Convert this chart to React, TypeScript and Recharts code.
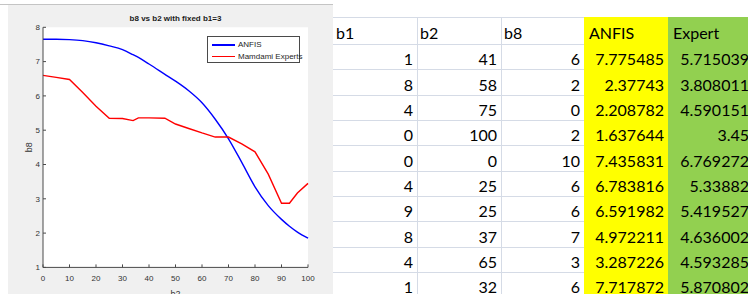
import { LineChart, Line, XAxis, YAxis, CartesianGrid, Legend } from 'recharts';

// b2 sample points along the x axis
const b2Values = [0, 5, 10, 15, 20, 25, 30, 34, 36, 40, 46, 50, 55, 60, 65, 70, 75, 80, 85, 90, 93, 96, 100];
const anfisB8 = [7.65, 7.65, 7.64, 7.61, 7.55, 7.46, 7.35, 7.2, 7.12, 6.93, 6.63, 6.43, 6.15, 5.8, 5.32, 4.75, 4.06, 3.35, 2.8, 2.4, 2.2, 2.03, 1.85];
const expertB8 = [6.6, 6.54, 6.48, 6.1, 5.7, 5.35, 5.34, 5.28, 5.36, 5.36, 5.35, 5.18, 5.05, 4.92, 4.8, 4.8, 4.6, 4.37, 3.72, 2.87, 2.87, 3.17, 3.45];
const xTicks = [0, 10, 20, 30, 40, 50, 60, 70, 80, 90, 100];
const yTicks = [1, 2, 3, 4, 5, 6, 7, 8];

// spreadsheet columns
const tableHeaders = ['b1', 'b2', 'b8', 'ANFIS', 'Expert'];
const b1Col = [1, 8, 4, 0, 0, 4, 9, 8, 4, 1];
const b2Col = [41, 58, 75, 100, 0, 25, 25, 37, 65, 32];
const b8Col = [6, 2, 0, 2, 10, 6, 6, 7, 3, 6];
const anfisCol = [7.775485, 2.37743, 2.208782, 1.637644, 7.435831, 6.783816, 6.591982, 4.972211, 3.287226, 7.717872];
const expertCol = [5.715039, 3.808011, 4.590151, 3.45, 6.769272, 5.33882, 5.419527, 4.636002, 4.593285, 5.870802];

const chartData = b2Values.map((b2, i) => ({ b2, anfis: anfisB8[i], expert: expertB8[i] }));

const axisColor = '#4a4a4a';
const tickFont = { fill: '#333', fontSize: 8, fontFamily: 'Liberation Sans, Arial, sans-serif' };

function MatlabLegend({ payload }: any) {
  return (
    <div
      style={{
        background: '#fff',
        border: `1px solid ${axisColor}`,
        width: 93,
        height: 27,
        boxSizing: 'border-box',
        fontFamily: 'Liberation Sans, Arial, sans-serif',
        fontSize: 8,
        color: '#262626',
        paddingTop: 2,
        whiteSpace: 'nowrap',
      }}
    >
      {(payload || []).map((p: any) => (
        <div key={p.value} style={{ display: 'flex', alignItems: 'center', height: 11.5 }}>
          <div style={{ flexShrink: 0, width: 23, height: 1.5, background: p.color, marginLeft: 4, marginRight: 3 }} />
          <span>{p.value}</span>
        </div>
      ))}
    </div>
  );
}

const colLeft = [333, 417, 501, 584, 668];
const colWidth = [84, 84, 83, 84, 84];
const colBg = ['transparent', 'transparent', 'transparent', '#ffff00', '#92d050'];
const rowTop = (i: number) => 44 + 25.33 * i;
const gridColor = '#d5dbe6';
const cellFont = 'Lato, "Open Sans", sans-serif';

function Sheet() {
  const cols = [b1Col, b2Col, b8Col, anfisCol, expertCol];
  const lines: any[] = [];
  lines.push(<div key="top" style={{ position: 'absolute', left: 333, top: 17, width: 251, height: 1, background: gridColor }} />);
  for (let i = 0; i <= 10; i++) {
    lines.push(
      <div key={'h' + i} style={{ position: 'absolute', left: 333, top: rowTop(i), width: 251, height: 1, background: gridColor }} />
    );
  }
  [417, 501].forEach((x) =>
    lines.push(<div key={'v' + x} style={{ position: 'absolute', left: x, top: 17, width: 1, height: 277, background: gridColor }} />)
  );
  return (
    <>
      {colBg.map((bg, c) =>
        bg === 'transparent' ? null : (
          <div key={'bg' + c} style={{ position: 'absolute', left: colLeft[c], top: 17, width: colWidth[c], height: 277, background: bg }} />
        )
      )}
      {lines}
      {tableHeaders.map((h, c) => (
        <div
          key={'th' + c}
          style={{
            position: 'absolute',
            left: colLeft[c] + (c >= 3 ? 5 : 3),
            top: 22.6,
            lineHeight: '19px',
            fontFamily: cellFont,
            fontSize: 16,
            color: '#000',
          }}
        >
          {h}
        </div>
      ))}
      {cols.map((col, c) =>
        col.map((v, r) => (
          <div
            key={c + '-' + r}
            style={{
              position: 'absolute',
              left: colLeft[c],
              width: colWidth[c] - (c === 4 ? 3 : 4),
              top: rowTop(r) + 5.3,
              lineHeight: '19px',
              textAlign: 'right',
              fontFamily: cellFont,
              fontSize: 16,
              color: '#000',
            }}
          >
            {String(v)}
          </div>
        ))
      )}
    </>
  );
}

export default function App() {
  return (
    <div style={{ position: 'absolute', left: 0, top: 0, width: 748, height: 294, overflow: 'hidden', background: '#fff' }}>
      <div style={{ position: 'absolute', left: 0, top: 4, width: 333, height: 1, background: '#c4c4c4' }} />
      <div style={{ position: 'absolute', left: 8, top: 5, width: 325, height: 289, background: '#f0f0f0' }}>
        <div
          style={{
            position: 'absolute',
            left: 0,
            width: 335,
            top: 9,
            textAlign: 'center',
            fontFamily: 'Liberation Sans, Arial, sans-serif',
            fontWeight: 'bold',
            fontSize: 8,
            color: '#1a1a1a',
          }}
        >
          b8 vs b2 with fixed b1=3
        </div>
        <LineChart width={325} height={289} data={chartData} margin={{ top: 22.3, right: 25, bottom: 0, left: 0 }}>
          <CartesianGrid horizontal={false} vertical={false} fill="#ffffff" />
          <XAxis
            dataKey="b2"
            type="number"
            domain={[0, 100]}
            ticks={xTicks}
            height={26.6}
            tickSize={-3}
            tickMargin={11}
            tick={tickFont}
            stroke={axisColor}
            label={{ value: 'b2', position: 'center', dy: 13, style: { ...tickFont, fontSize: 9 } }}
          />
          <XAxis xAxisId="top" orientation="top" type="number" domain={[0, 100]} ticks={xTicks} height={0} tickSize={-3} tick={false} stroke={axisColor} />
          <YAxis
            type="number"
            domain={[1, 8]}
            ticks={yTicks}
            width={35}
            tickSize={-3}
            tickMargin={6}
            tick={tickFont}
            stroke={axisColor}
            label={{ value: 'b8', angle: -90, position: 'center', dx: 3, style: { ...tickFont, fontSize: 9 } }}
          />
          <YAxis yAxisId="right" orientation="right" type="number" domain={[1, 8]} ticks={yTicks} width={0} tickSize={-3} tick={false} stroke={axisColor} />
          <Legend
            layout="vertical"
            align="center"
            verticalAlign="middle"
            content={<MatlabLegend />}
            wrapperStyle={{ position: 'absolute', left: 199, top: 31, width: 93, height: 27 }}
          />
          <Line dataKey="anfis" name="ANFIS" type="monotone" stroke="#0000ff" strokeWidth={1.4} dot={false} isAnimationActive={false} />
          <Line dataKey="expert" name="Mamdami Experts" type="linear" stroke="#ff0000" strokeWidth={1.4} dot={false} isAnimationActive={false} />
        </LineChart>
      </div>
      <Sheet />
    </div>
  );
}
